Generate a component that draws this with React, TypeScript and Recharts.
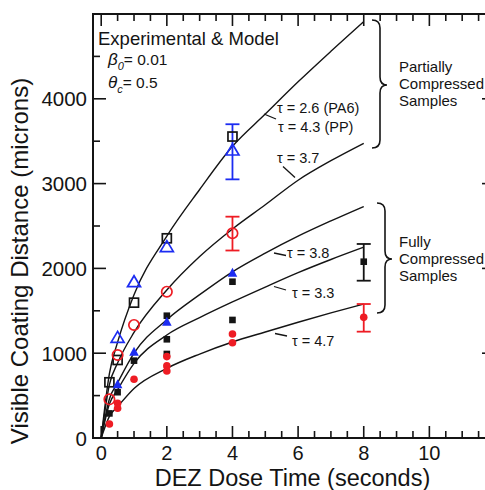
import React from 'react';
import {
  ComposedChart,
  Line,
  Scatter,
  ErrorBar,
  XAxis,
  YAxis,
  ReferenceArea,
} from 'recharts';

// model curves, sampled along the dose time axis (seconds)
const curveX = [0, 0.25, 0.5, 1, 2, 3, 4, 5, 6, 7, 8];
const curveTau26 = [0, 760, 1130, 1690, 2380, 2930, 3440, 3820, 4200, 4560, 4910];
const curveTau37 = [0, 630, 885, 1245, 1745, 2140, 2465, 2750, 3040, 3270, 3475];
const curveTau38 = [0, 460, 650, 1000, 1395, 1690, 1960, 2180, 2380, 2560, 2730];
const curveTau33 = [0, 400, 570, 880, 1215, 1420, 1605, 1780, 1950, 2105, 2250];
const curveTau47 = [0, 255, 370, 585, 822, 990, 1132, 1250, 1365, 1475, 1580];

// measurements: [time, distance] or [time, distance, errLow, errHigh]
const pa6Partial = [[0.25, 657], [0.5, 920], [1, 1596], [2, 2355], [4, 3555]];
const ppPartial = [[0.5, 1187], [1, 1843], [2, 2256]];
const ppPartialErr = [[4, 3396, 346, 304]];
const tau37Partial = [[0.25, 456], [0.5, 979], [1, 1333], [2, 1725]];
const tau37PartialErr = [[4, 2414, 203, 196]];
const tau38Full = [[0.5, 633], [1, 1018], [2, 1371], [4, 1949]];
const blackFull = [[0.25, 290], [0.5, 540], [1, 912], [2, 1442], [2, 1164], [2, 991], [4, 1843], [4, 1392]];
const blackFullErr = [[8, 2079, 224, 209]];
const redFull = [[0.25, 165], [0.5, 409], [0.5, 350], [1, 692], [2, 960], [2, 850], [2, 790], [4, 1226], [4, 1124]];
const redFullErr = [[8, 1423, 169, 157]];

const xTicks = [0, 0.5, 1, 1.5, 2, 2.5, 3, 3.5, 4, 4.5, 5, 5.5, 6, 6.5, 7, 7.5, 8, 8.5, 9, 9.5, 10, 10.5, 11, 11.5];
const yTicks = [0, 500, 1000, 1500, 2000, 2500, 3000, 3500, 4000, 4500];

const INK = '#141414';
const BLUE = '#1c2cf2';
const RED = '#ee1c24';
const FONT = '"Liberation Sans", Arial, sans-serif';

const CHART_W = 495;
const CHART_H = 490;
const PLOT_TOP = 14;
const PLOT_RIGHT = CHART_W;

const curve = (ys: number[]) => curveX.map((x, i) => ({ x, y: ys[i] }));
const pts = (rows: number[][]) =>
  rows.map((r) => ({ x: r[0], y: r[1], err: r.length > 2 ? [r[2], r[3]] : undefined }));

const openSquare = (c: string) => (p: any) => (
  <rect x={p.cx - 4.5} y={p.cy - 4.5} width={9} height={9} fill="none" stroke={c} strokeWidth={1.7} />
);
const openTriangle = (c: string) => (p: any) => (
  <polygon
    points={`${p.cx},${p.cy - 6} ${p.cx - 6.5},${p.cy + 5} ${p.cx + 6.5},${p.cy + 5}`}
    fill="none"
    stroke={c}
    strokeWidth={1.7}
  />
);
const openCircle = (c: string) => (p: any) => (
  <circle cx={p.cx} cy={p.cy} r={5.2} fill="none" stroke={c} strokeWidth={1.7} />
);
const filledSquare = (c: string) => (p: any) => (
  <rect x={p.cx - 3.3} y={p.cy - 3.3} width={6.6} height={6.6} fill={c} />
);
const filledTriangle = (c: string) => (p: any) => (
  <polygon
    points={`${p.cx},${p.cy - 5} ${p.cx - 4.8},${p.cy + 4} ${p.cx + 4.8},${p.cy + 4}`}
    fill={c}
  />
);
const filledCircle = (c: string) => (p: any) => <circle cx={p.cx} cy={p.cy} r={3.8} fill={c} />;

const XTick = (props: any) => {
  const { x, y, payload } = props;
  const v = payload.value;
  const major = v % 2 === 0;
  const len = major ? 12 : 7;
  return (
    <g>
      <line x1={x} x2={x} y1={y} y2={y - len} stroke={INK} strokeWidth={1.6} />
      <line x1={x} x2={x} y1={PLOT_TOP} y2={PLOT_TOP + len} stroke={INK} strokeWidth={1.6} />
      {major && (
        <text x={x} y={y + 22} textAnchor="middle" fontSize={20} fill={INK} fontFamily={FONT}>
          {v}
        </text>
      )}
    </g>
  );
};

const YTick = (props: any) => {
  const { x, y, payload } = props;
  const v = payload.value;
  const major = v % 1000 === 0;
  const len = major ? 13 : 7;
  return (
    <g>
      <line x1={x} x2={x + len} y1={y} y2={y} stroke={INK} strokeWidth={1.6} />
      <line x1={PLOT_RIGHT} x2={PLOT_RIGHT - len} y1={y} y2={y} stroke={INK} strokeWidth={1.6} />
      {major && (
        <text x={x - 6} y={y} textAnchor="end" dominantBaseline="central" fontSize={20.5} fill={INK} fontFamily={FONT}>
          {v}
        </text>
      )}
    </g>
  );
};

const curves = [curveTau26, curveTau37, curveTau38, curveTau33, curveTau47];

export default function App() {
  return (
    <div
      style={{
        position: 'absolute',
        left: 0,
        top: 0,
        width: 485,
        height: 490,
        overflow: 'hidden',
        background: '#fff',
      }}
    >
      <ComposedChart width={CHART_W} height={CHART_H} margin={{ top: PLOT_TOP, right: 0, bottom: 0, left: 0 }}>
        <XAxis
          dataKey="x"
          type="number"
          domain={[-0.25, 12]}
          ticks={xTicks}
          interval={0}
          tickSize={0}
          tickMargin={0}
          axisLine={false}
          tickLine={false}
          tick={XTick}
          height={52}
          allowDataOverflow
        />
        <YAxis
          dataKey="y"
          type="number"
          domain={[0, 5000]}
          ticks={yTicks}
          interval={0}
          width={93}
          tickSize={0}
          tickMargin={0}
          axisLine={false}
          tickLine={false}
          tick={YTick}
          allowDataOverflow
        />
        <ReferenceArea x1={-0.25} x2={12} y1={0} y2={5000} fill="none" stroke={INK} strokeWidth={2} ifOverflow="visible" />

        {curves.map((ys, i) => (
          <Line
            key={i}
            data={curve(ys)}
            dataKey="y"
            type="monotone"
            stroke={INK}
            strokeWidth={1.4}
            dot={false}
            isAnimationActive={false}
          />
        ))}

        <Scatter data={pts(pa6Partial)} shape={openSquare(INK)} isAnimationActive={false} />
        <Scatter data={pts(ppPartial)} shape={openTriangle(BLUE)} isAnimationActive={false} />
        <Scatter data={pts(ppPartialErr)} shape={openTriangle(BLUE)} isAnimationActive={false}>
          <ErrorBar dataKey="err" direction="y" width={7} stroke={BLUE} strokeWidth={1.8} />
        </Scatter>
        <Scatter data={pts(tau37Partial)} shape={openCircle(RED)} isAnimationActive={false} />
        <Scatter data={pts(tau37PartialErr)} shape={openCircle(RED)} isAnimationActive={false}>
          <ErrorBar dataKey="err" direction="y" width={7} stroke={RED} strokeWidth={1.8} />
        </Scatter>
        <Scatter data={pts(blackFull)} shape={filledSquare(INK)} isAnimationActive={false} />
        <Scatter data={pts(blackFullErr)} shape={filledSquare(INK)} isAnimationActive={false}>
          <ErrorBar dataKey="err" direction="y" width={7} stroke={INK} strokeWidth={1.8} />
        </Scatter>
        <Scatter data={pts(tau38Full)} shape={filledTriangle(BLUE)} isAnimationActive={false} />
        <Scatter data={pts(redFull)} shape={filledCircle(RED)} isAnimationActive={false} />
        <Scatter data={pts(redFullErr)} shape={filledCircle(RED)} isAnimationActive={false}>
          <ErrorBar dataKey="err" direction="y" width={7} stroke={RED} strokeWidth={1.8} />
        </Scatter>
      </ComposedChart>

      {/* annotations */}
      <svg
        width={485}
        height={490}
        style={{ position: 'absolute', left: 0, top: 0, pointerEvents: 'none' }}
        fontFamily={FONT}
        fill={INK}
      >
        <text x={98} y={44.5} fontSize={18.5}>Experimental &amp; Model</text>
        <text x={108} y={65} fontSize={15.5}>
          <tspan fontStyle="italic" fontSize={17}>β</tspan>
          <tspan fontStyle="italic" fontSize={11} dy={5}>0</tspan>
          <tspan dy={-5}>= 0.01</tspan>
        </text>
        <text x={108} y={87.5} fontSize={15.5}>
          <tspan fontStyle="italic" fontSize={17}>θ</tspan>
          <tspan fontStyle="italic" fontSize={11} dy={5}>c</tspan>
          <tspan dy={-5}>= 0.5</tspan>
        </text>

        <g fontSize={14.5}>
          <text x={277} y={112.5}>τ = 2.6 (PA6)</text>
          <text x={278} y={131.5}>τ = 4.3 (PP)</text>
          <text x={277} y={163}>τ = 3.7</text>
          <text x={287} y={257.5}>τ = 3.8</text>
          <text x={292} y={297.5}>τ = 3.3</text>
          <text x={292} y={345.5}>τ = 4.7</text>
        </g>
        <g stroke={INK} strokeWidth={1.3}>
          <line x1={264} y1={114} x2={276} y2={119} />
          <line x1={283} y1={166.5} x2={295} y2={177.5} />
          <line x1={274} y1={253} x2={286} y2={255.5} />
          <line x1={274} y1={286.5} x2={286} y2={290} />
          <line x1={275} y1={333.5} x2={287} y2={336} />
        </g>

        <g fill="none" stroke={INK} strokeWidth={1.6}>
          <path d="M372,20 Q380,20 380,28 L380,77 Q380,85 387,85 Q380,85 380,93 L380,140 Q380,148 372,148" />
          <path d="M377,203 Q385,203 385,211 L385,251 Q385,259 392,259 Q385,259 385,267 L385,305 Q385,313 377,313" />
        </g>
        <g fontSize={15}>
          <text x={399} y={71.5}>Partially</text>
          <text x={399} y={88.5}>Compressed</text>
          <text x={399} y={105.5}>Samples</text>
          <text x={399} y={246.5}>Fully</text>
          <text x={399} y={263.5}>Compressed</text>
          <text x={399} y={280.5}>Samples</text>
        </g>

        <text x={292.5} y={486} textAnchor="middle" fontSize={23.5}>DEZ Dose Time (seconds)</text>
        <text
          transform="translate(19,261) rotate(-90)"
          textAnchor="middle"
          dominantBaseline="central"
          fontSize={24}
        >
          Visible Coating Distance (microns)
        </text>
      </svg>
    </div>
  );
}
